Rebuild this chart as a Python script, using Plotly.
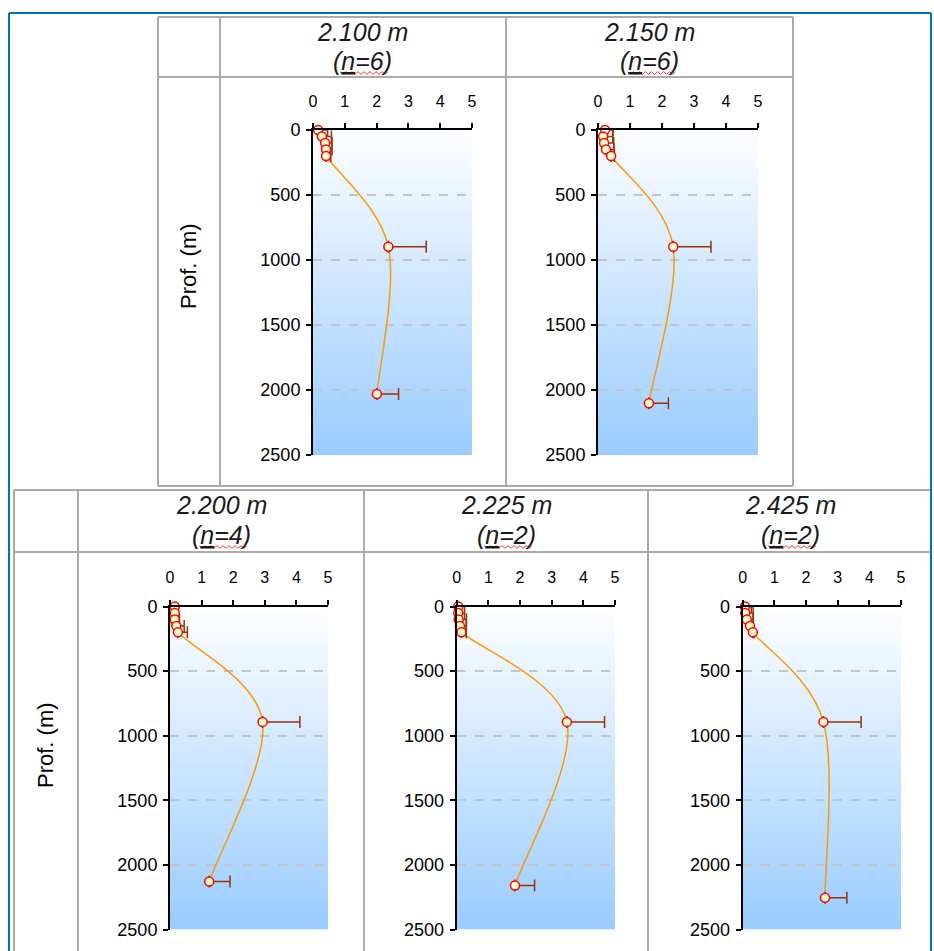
import plotly.graph_objects as go

# ---------------- data ----------------
titles = ["2.100 m", "2.150 m", "2.200 m", "2.225 m", "2.425 m"]
n_obs = [6, 6, 4, 2, 2]

depth_2100 = [0, 50, 100, 150, 200, 898, 2031]
value_2100 = [0.16, 0.28, 0.38, 0.41, 0.41, 2.37, 2.01]
error_2100 = [0.30, 0.30, 0.22, 0.19, 0.15, 1.19, 0.68]

depth_2150 = [0, 50, 100, 150, 200, 898, 2102]
value_2150 = [0.22, 0.16, 0.19, 0.25, 0.41, 2.35, 1.59]
error_2150 = [0.25, 0.30, 0.30, 0.25, 0.10, 1.18, 0.61]

depth_2200 = [0, 50, 100, 150, 200, 893, 2128]
value_2200 = [0.15, 0.15, 0.15, 0.20, 0.25, 2.93, 1.24]
error_2200 = [0.10, 0.10, 0.15, 0.25, 0.30, 1.18, 0.66]

depth_2225 = [0, 50, 100, 150, 200, 893, 2159]
value_2225 = [0.05, 0.05, 0.06, 0.10, 0.15, 3.48, 1.84]
error_2225 = [0.10, 0.20, 0.25, 0.20, 0.15, 1.19, 0.62]

depth_2425 = [0, 50, 100, 150, 200, 893, 2254]
value_2425 = [0.07, 0.08, 0.13, 0.23, 0.32, 2.55, 2.60]
error_2425 = [0.20, 0.25, 0.20, 0.10, 0.05, 1.19, 0.69]

x_ticks = [0, 1, 2, 3, 4, 5]
y_ticks = [0, 500, 1000, 1500, 2000, 2500]
y_label = "Prof. (m)"

depths = [depth_2100, depth_2150, depth_2200, depth_2225, depth_2425]
values = [value_2100, value_2150, value_2200, value_2225, value_2425]
errors = [error_2100, error_2150, error_2200, error_2225, error_2425]

# ---------------- layout geometry (pixels) ----------------
W, H = 934, 951
def fx(p): return p / W
def fy(p): return 1 - p / H

boxes = [(313, 472, 130, 455), (598, 758, 130, 455),
         (170, 328, 606.5, 929.5), (456.7, 615, 606.5, 929.5), (742.7, 901, 606.5, 929.5)]
header_cx = [362, 649.5, 221, 506, 790]
header_y1 = [32, 32, 505, 505, 505]
header_y2 = [61, 61, 535, 535, 535]

FONT = "Arial"
fig = go.Figure()
shapes = []
annotations = []

top_col = (253, 254, 255)
bot_col = (153, 204, 255)
NG = 60


def smooth_path(xs, ys):
    """Excel-style smoothed line (Catmull-Rom as cubic Bezier), in data coordinates."""
    P = list(zip(xs, ys))
    n = len(P)
    d = "M%.4f,%.4f" % P[0]
    for i in range(n - 1):
        p0 = P[i - 1] if i > 0 else P[i]
        p1, p2 = P[i], P[i + 1]
        p3 = P[i + 2] if i + 2 < n else P[i + 1]
        c1 = (p1[0] + (p2[0] - p0[0]) / 6, p1[1] + (p2[1] - p0[1]) / 6)
        c2 = (p2[0] - (p3[0] - p1[0]) / 6, p2[1] - (p3[1] - p1[1]) / 6)
        d += " C%.4f,%.4f %.4f,%.4f %.4f,%.4f" % (c1[0], c1[1], c2[0], c2[1], p2[0], p2[1])
    return d


for i in range(5):
    k = "" if i == 0 else str(i + 1)
    xa, ya = "x" + k, "y" + k
    x0, x1, y0, y1 = boxes[i]
    fig.add_trace(go.Scatter(
        x=values[i], y=depths[i], xaxis=xa, yaxis=ya,
        mode="markers", cliponaxis=False, showlegend=False,
        marker=dict(symbol="circle", size=9, color="#FFFFCC",
                    line=dict(color="#FF0000", width=1.5)),
        error_x=dict(type="data", array=errors[i], arrayminus=[0] * len(errors[i]),
                     symmetric=False, color="#993300", thickness=1.5, width=6),
    ))
    # smoothed connecting line through the data points
    shapes.append(dict(type="path", xref=xa, yref=ya, layer="between",
                       path=smooth_path(values[i], depths[i]),
                       line=dict(color="#FF9900", width=1.5)))
    fig.layout["xaxis" + k] = dict(
        domain=[fx(x0), fx(x1)], range=[0, 5], side="top", anchor=ya,
        showline=True, linecolor="black", linewidth=2, mirror=False,
        ticks="outside", ticklen=5, tickwidth=1.5, tickcolor="black",
        tickvals=x_ticks, ticklabelstandoff=10,
        tickfont=dict(family=FONT, size=16, color="black"),
        showgrid=False, zeroline=False, fixedrange=True)
    fig.layout["yaxis" + k] = dict(
        domain=[fy(y1), fy(y0)], range=[2500, 0], anchor=xa,
        showline=True, linecolor="black", linewidth=2,
        ticks="outside", ticklen=5, tickwidth=1.5, tickcolor="black",
        tickvals=y_ticks, ticklabelstandoff=2,
        tickfont=dict(family=FONT, size=18, color="black"),
        showgrid=True, gridcolor="#C4C4C4", gridwidth=1.5, griddash="dash",
        zeroline=False, fixedrange=True)
    # gradient background
    for g in range(NG):
        t = (g + 0.5) / NG
        c = tuple(round(top_col[j] + (bot_col[j] - top_col[j]) * t) for j in range(3))
        shapes.append(dict(type="rect", xref=xa, yref=ya, layer="below",
                           x0=0, x1=5, y0=2500 * g / NG, y1=min(2500, 2500 * (g + 1) / NG + 5),
                           fillcolor="rgb(%d,%d,%d)" % c, line=dict(width=0)))
    # headers
    annotations.append(dict(xref="paper", yref="paper", x=fx(header_cx[i]), y=fy(header_y1[i]),
                            text="<i>" + titles[i] + "</i>", showarrow=False,
                            font=dict(family=FONT, size=25, color="#1A1A1A"),
                            xanchor="center", yanchor="middle"))
    annotations.append(dict(xref="paper", yref="paper", x=fx(header_cx[i]), y=fy(header_y2[i]),
                            text="<i>(<u>n</u>=%d)</i>" % n_obs[i], showarrow=False,
                            font=dict(family=FONT, size=25, color="#1A1A1A"),
                            xanchor="center", yanchor="middle"))
    # red wavy underline
    zx0 = header_cx[i] - 22
    zy = header_y2[i] + 12
    pts = []
    for s in range(17):
        px_ = zx0 + s * 3
        py_ = zy + (1.3 if s % 2 else -1.3)
        pts.append("%s%.5f,%.5f" % ("M" if s == 0 else "L", fx(px_), fy(py_)))
    shapes.append(dict(type="path", xref="paper", yref="paper", path=" ".join(pts),
                       line=dict(color="#FF3333", width=1)))

# y-axis labels
for (cx, cy) in [(188, 266), (45, 745)]:
    annotations.append(dict(xref="paper", yref="paper", x=fx(cx), y=fy(cy), text=y_label,
                            textangle=-90, showarrow=False,
                            font=dict(family=FONT, size=22, color="black"),
                            xanchor="center", yanchor="middle"))

# table grid lines
GRID = dict(color="#ABABAB", width=2)
def hline(x0, x1, y):
    shapes.append(dict(type="line", xref="paper", yref="paper", x0=fx(x0), x1=fx(x1),
                       y0=fy(y), y1=fy(y), line=GRID))
def vline(x, y0, y1):
    shapes.append(dict(type="line", xref="paper", yref="paper", x0=fx(x), x1=fx(x),
                       y0=fy(y0), y1=fy(y1), line=GRID))

for y in (17, 77, 486):
    hline(158, 793, y)
for x in (158, 220, 506, 793):
    vline(x, 17, 486)
for y in (490, 552):
    hline(14, 930, y)
for x in (14, 78, 364, 648):
    vline(x, 490, 951)

# blue frame
BLUE = dict(color="#0070C0", width=2)
shapes.append(dict(type="line", xref="paper", yref="paper", x0=fx(9), x1=fx(9), y0=fy(13), y1=fy(951), line=BLUE))
shapes.append(dict(type="line", xref="paper", yref="paper", x0=fx(9), x1=fx(931), y0=fy(13), y1=fy(13), line=BLUE))
shapes.append(dict(type="line", xref="paper", yref="paper", x0=fx(931), x1=fx(931), y0=fy(13), y1=fy(951), line=BLUE))

fig.update_layout(
    width=W, height=H, margin=dict(l=0, r=0, t=0, b=0),
    template="none", paper_bgcolor="white", plot_bgcolor="rgba(0,0,0,0)",
    shapes=shapes, annotations=annotations, showlegend=False,
)
fig.write_html("out.html", config={"displayModeBar": False},
               post_script="document.body.style.margin='0';document.body.style.padding='0';")
